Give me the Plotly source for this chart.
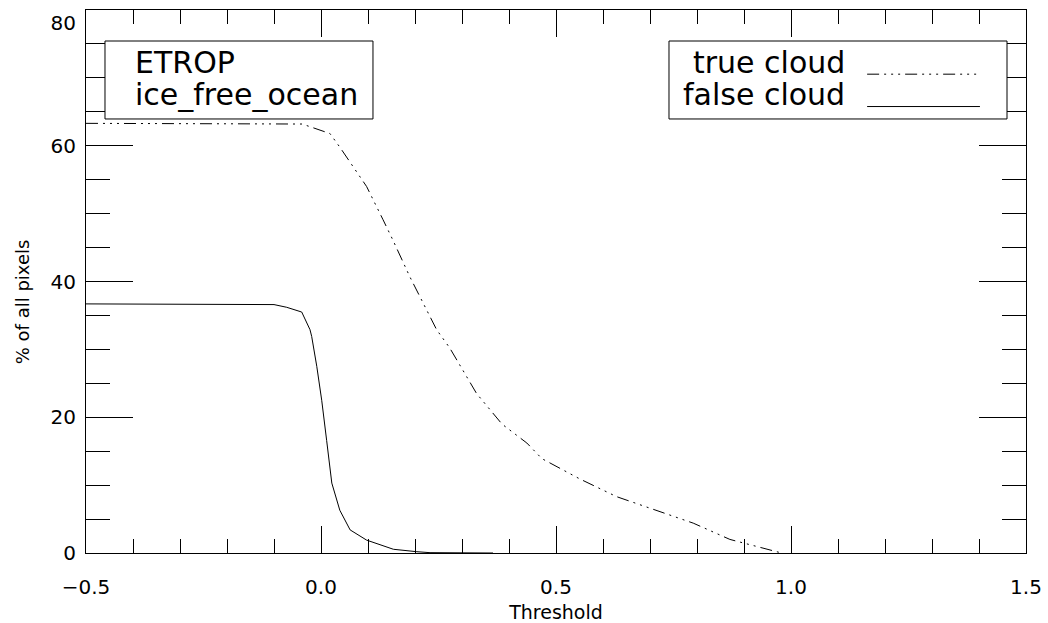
import plotly.graph_objects as go

# ---- data ----
true_x = [-0.5, -0.4, -0.3, -0.2, -0.1, -0.04, -0.023, 0.0, 0.019, 0.04, 0.062, 0.097,
          0.132, 0.153, 0.189, 0.217, 0.246, 0.274, 0.331, 0.385, 0.438, 0.47, 0.551,
          0.629, 0.707, 0.792, 0.87, 0.941, 0.98]
true_y = [63.3, 63.3, 63.3, 63.3, 63.3, 63.2, 62.8, 62.3, 61.8, 59.8, 57.5, 54.0,
          49.1, 46.1, 40.7, 36.8, 32.9, 30.2, 23.5, 19.0, 16.2, 13.9, 10.9,
          8.3, 6.4, 4.4, 2.0, 0.7, 0.0]

false_x = [-0.5, -0.3, -0.1, -0.073, -0.041, -0.0234, -0.0198, -0.009, 0.0015, 0.012,
           0.023, 0.040, 0.062, 0.097, 0.154, 0.204, 0.232, 0.366]
false_y = [36.7, 36.7, 36.6, 36.2, 35.5, 32.9, 31.9, 27.5, 22.5, 16.6,
           10.3, 6.3, 3.4, 1.9, 0.55, 0.19, 0.05, 0.0]

x_ticks = [-0.5, 0.0, 0.5, 1.0, 1.5]
x_tick_labels = ["\u22120.5", "0.0", "0.5", "1.0", "1.5"]
y_ticks = [0, 20, 40, 60, 80]
# top label drawn one half line lower (as in the reference) via a leading empty line
y_tick_labels = ["0", "20", "40", "60", "<br>80"]

series_names = ["true cloud", "false cloud"]
box_lines = ["ETROP", "ice_free_ocean"]

FONT = "DejaVu Sans"
DASHDOT3 = "12px,5px,2px,5px,2px,5px,2px,5px"

fig = go.Figure()
fig.add_trace(go.Scatter(x=true_x, y=true_y, mode="lines", name=series_names[0],
                         line=dict(color="black", width=1, dash=DASHDOT3)))
fig.add_trace(go.Scatter(x=false_x, y=false_y, mode="lines", name=series_names[1],
                         line=dict(color="black", width=1)))

axis_common = dict(showgrid=False, zeroline=False, showline=True, linecolor="black",
                   linewidth=1, mirror="ticks", ticks="inside", tickcolor="black",
                   tickwidth=1, ticklabeloverflow="allow",
                   tickfont=dict(family=FONT, size=20, color="black"))

fig.update_xaxes(range=[-0.5, 1.5], tickvals=x_ticks, ticktext=x_tick_labels,
                 ticklen=27, ticklabelstandoff=16,
                 minor=dict(dtick=0.1, ticks="inside", ticklen=14, tickcolor="black", tickwidth=1),
                 title=dict(text="Threshold", font=dict(family=FONT, size=19, color="black"),
                            standoff=8),
                 **axis_common)
fig.update_yaxes(range=[0, 80], tickvals=y_ticks, ticktext=y_tick_labels,
                 ticklen=47, ticklabelstandoff=5,
                 minor=dict(dtick=5, ticks="inside", ticklen=24, tickcolor="black", tickwidth=1),
                 **axis_common)

# legend / label boxes
fig.add_shape(type="rect", xref="paper", yref="paper", x0=0.0202, x1=0.3053,
              y0=0.7993, y1=0.9429, line=dict(color="black", width=1), fillcolor="white", layer="above")
fig.add_shape(type="rect", xref="paper", yref="paper", x0=0.6202, x1=0.9798,
              y0=0.7993, y1=0.9429, line=dict(color="black", width=1), fillcolor="white", layer="above")

ann_font = dict(family=FONT, size=30, color="black")
fig.add_annotation(xref="paper", yref="paper", x=0.050, y=0.903, text=box_lines[0],
                   showarrow=False, xanchor="left", yanchor="middle", font=ann_font)
fig.add_annotation(xref="paper", yref="paper", x=0.050, y=0.845, text=box_lines[1],
                   showarrow=False, xanchor="left", yanchor="middle", font=ann_font)
fig.add_annotation(xref="paper", yref="paper", x=0.8096, y=0.903, text=series_names[0],
                   showarrow=False, xanchor="right", yanchor="middle", font=ann_font)
fig.add_annotation(xref="paper", yref="paper", x=0.8096, y=0.845, text=series_names[1],
                   showarrow=False, xanchor="right", yanchor="middle", font=ann_font)

# legend line samples
fig.add_shape(type="line", xref="paper", yref="paper", x0=0.831, x1=0.951,
              y0=0.8818, y1=0.8818, line=dict(color="black", width=1, dash=DASHDOT3), layer="above")
fig.add_shape(type="line", xref="paper", yref="paper", x0=0.831, x1=0.951,
              y0=0.8222, y1=0.8222, line=dict(color="black", width=1), layer="above")

# y axis title
fig.add_annotation(xref="paper", yref="paper", x=-0.068, y=0.462, text="% of all pixels",
                   textangle=-90, showarrow=False, xanchor="center", yanchor="middle",
                   font=dict(family=FONT, size=18, color="black"))

fig.update_layout(width=1048, height=623, showlegend=False,
                  margin=dict(l=86, r=22, t=10, b=70, autoexpand=False),
                  paper_bgcolor="white", plot_bgcolor="white",
                  font=dict(family=FONT, color="black"))

fig.write_html("out.html", config={"displayModeBar": False},
               post_script="document.body.style.margin='0';")
